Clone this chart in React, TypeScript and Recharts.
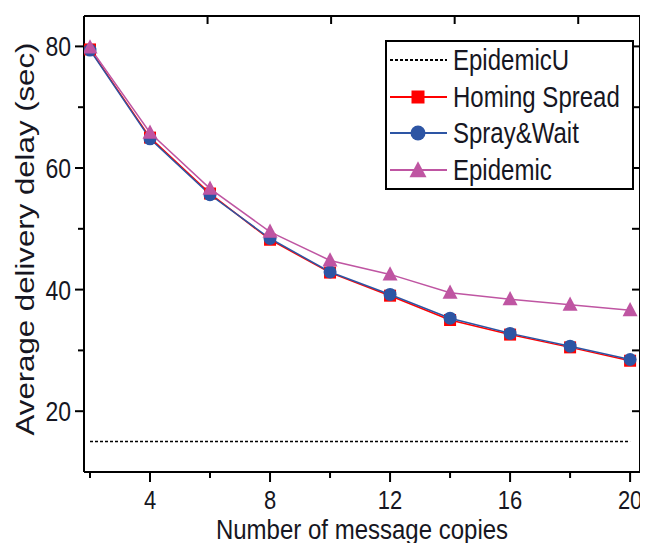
import React from 'react';
import { LineChart, Line, XAxis, YAxis } from 'recharts';

const copies = [2, 4, 6, 8, 10, 12, 14, 16, 18, 20];
const epidemicU = [15, 15, 15, 15, 15, 15, 15, 15, 15, 15];
const homingSpread = [79.5, 65.0, 55.8, 48.2, 42.8, 39.0, 35.0, 32.6, 30.5, 28.3];
const sprayWait = [79.4, 64.8, 55.6, 48.4, 42.9, 39.2, 35.3, 32.8, 30.7, 28.5];
const epidemic = [79.8, 65.8, 56.6, 49.5, 44.8, 42.5, 39.5, 38.4, 37.5, 36.6];

const xTicks = [2, 4, 6, 8, 10, 12, 14, 16, 18, 20];
const xLabelled = [4, 8, 12, 16, 20];
const yTicks = [20, 30, 40, 50, 60, 70, 80];
const yLabelled = [20, 40, 60, 80];

const data = copies.map((c, i) => ({
  copies: c,
  epidemicU: epidemicU[i],
  homing: homingSpread[i],
  spray: sprayWait[i],
  epidemic: epidemic[i],
}));

const RED = '#ff0000';
const BLUE = '#2d55a4';
const PINK = '#bf55a2';
const FONT = '"Liberation Sans", Arial, sans-serif';
const INK = '#161622';

const Square = ({ cx, cy, fill, size = 12 }: any) => (
  <rect x={cx - size / 2} y={cy - size / 2} width={size} height={size} fill={fill} />
);
const Circle = ({ cx, cy, fill, r = 6.5 }: any) => <circle cx={cx} cy={cy} r={r} fill={fill} />;
const Triangle = ({ cx, cy, fill, s = 15 }: any) => (
  <path d={`M${cx},${cy - s * 0.55}L${cx + s / 2},${cy + s * 0.4}L${cx - s / 2},${cy + s * 0.4}Z`} fill={fill} />
);

const BottomTick = ({ x, y, payload }: any) => {
  const major = xLabelled.includes(payload.value);
  return (
    <g>
      <line x1={x} y1={y} x2={x} y2={y + (major ? 10 : 6)} stroke="#000" strokeWidth={2} />
      {major && (
        <text transform={`translate(${x},${y + 37}) scale(1,1.2)`} textAnchor="middle" fontSize={22} fontFamily={FONT} fill={INK}>
          {payload.value}
        </text>
      )}
    </g>
  );
};

const LeftTick = ({ x, y, payload }: any) => {
  const major = yLabelled.includes(payload.value);
  return (
    <g>
      <line x1={x} y1={y} x2={x - (major ? 9 : 6)} y2={y} stroke="#000" strokeWidth={2} />
      {major && (
        <text transform={`translate(${x - 13},${y + 10}) scale(1,1.2)`} textAnchor="end" fontSize={23} fontFamily={FONT} fill={INK}>
          {payload.value}
        </text>
      )}
    </g>
  );
};

const TopTick = ({ x, y }: any) => <line x1={x} y1={y} x2={x} y2={y + 8} stroke="#000" strokeWidth={2} />;
const RightTick = ({ x, y }: any) => <line x1={x} y1={y} x2={x - 8} y2={y} stroke="#000" strokeWidth={2} />;

const legendItems = [
  { name: 'EpidemicU', color: '#000', dash: '3 2', marker: null },
  { name: 'Homing Spread', color: RED, dash: undefined, marker: 'square' },
  { name: 'Spray&Wait', color: BLUE, dash: undefined, marker: 'circle' },
  { name: 'Epidemic', color: PINK, dash: undefined, marker: 'triangle' },
];

function ChartLegend() {
  return (
    <div
      style={{
        position: 'absolute',
        left: 385,
        top: 40,
        width: 249,
        boxSizing: 'border-box',
        border: '2px solid #000',
        background: '#fff',
      }}
    >
      {legendItems.map((it) => (
        <div key={it.name} style={{ display: 'flex', alignItems: 'center', height: 36.5 }}>
          <svg width={62} height={36} style={{ display: 'block' }}>
            <line x1={3} y1={18} x2={60} y2={18} stroke={it.color} strokeWidth={2} strokeDasharray={it.dash} />
            {it.marker === 'square' && <Square cx={31} cy={18} fill={it.color} size={13} />}
            {it.marker === 'circle' && <Circle cx={31} cy={18} fill={it.color} r={7.5} />}
            {it.marker === 'triangle' && <Triangle cx={31} cy={18.5} fill={it.color} s={17} />}
          </svg>
          <span
            style={{
              fontFamily: FONT,
              fontSize: 24,
              color: INK,
              marginLeft: 4,
              display: 'inline-block',
              transform: 'scaleY(1.2)',
              whiteSpace: 'nowrap',
            }}
          >
            {it.name}
          </span>
        </div>
      ))}
    </div>
  );
}

export default function App() {
  return (
    <div style={{ margin: -8, width: 648, height: 551, position: 'relative', background: '#e7e7e7', overflow: 'hidden' }}>
      <div style={{ position: 'absolute', left: 6, top: 5, right: 0, bottom: 0, background: '#fff' }} />
      <div style={{ position: 'absolute', left: 0, top: 0 }}>
        <LineChart width={648} height={551} data={data} margin={{ top: 0, right: 0, bottom: 0, left: 0 }}>
          <XAxis
            xAxisId={0}
            dataKey="copies"
            type="number"
            domain={[1.8, 20.33]}
            allowDataOverflow
            ticks={xTicks}
            height={79}
            tickSize={0}
            tickMargin={0}
            tickLine={false}
            axisLine={{ stroke: '#000', strokeWidth: 2 }}
            tick={<BottomTick />}
          />
          <XAxis
            xAxisId="top"
            orientation="top"
            type="number"
            domain={[1.8, 20.33]}
            allowDataOverflow
            ticks={xTicks}
            height={16}
            tickSize={0}
            tickMargin={0}
            tickLine={false}
            axisLine={{ stroke: '#000', strokeWidth: 2 }}
            tick={<TopTick />}
          />
          <YAxis
            yAxisId={0}
            type="number"
            domain={[10, 85]}
            allowDataOverflow
            ticks={yTicks}
            width={84}
            tickSize={0}
            tickMargin={0}
            tickLine={false}
            axisLine={{ stroke: '#000', strokeWidth: 2 }}
            tick={<LeftTick />}
            label={{
              value: 'Average delivery delay (sec)',
              content: ({ viewBox }: any) => {
                const cy = viewBox.y + viewBox.height / 2 - 5;
                return (
                  <text
                    transform={`translate(34,${cy}) scale(1,1.2) rotate(-90)`}
                    textAnchor="middle"
                    fontSize={26}
                    fontFamily={FONT}
                    fill={INK}
                  >
                    Average delivery delay (sec)
                  </text>
                );
              },
            }}
          />
          <YAxis
            yAxisId="right"
            orientation="right"
            type="number"
            domain={[10, 85]}
            allowDataOverflow
            ticks={yTicks}
            width={8}
            tickSize={0}
            tickMargin={0}
            tickLine={false}
            axisLine={{ stroke: '#000', strokeWidth: 2 }}
            tick={<RightTick />}
          />
          <Line
            dataKey="epidemicU"
            stroke="#000"
            strokeWidth={1.5}
            strokeDasharray="3 2"
            dot={false}
            isAnimationActive={false}
          />
          <Line
            dataKey="homing"
            stroke={RED}
            strokeWidth={1.5}
            dot={(p: any) => <Square key={`h${p.index}`} cx={p.cx} cy={p.cy} fill={RED} />}
            isAnimationActive={false}
          />
          <Line
            dataKey="spray"
            stroke={BLUE}
            strokeWidth={1.5}
            dot={(p: any) => <Circle key={`s${p.index}`} cx={p.cx} cy={p.cy} fill={BLUE} />}
            isAnimationActive={false}
          />
          <Line
            dataKey="epidemic"
            stroke={PINK}
            strokeWidth={1.5}
            dot={(p: any) => <Triangle key={`e${p.index}`} cx={p.cx} cy={p.cy} fill={PINK} />}
            isAnimationActive={false}
          />
        </LineChart>
      </div>
      <div
        style={{
          position: 'absolute',
          left: 84,
          width: 556,
          top: 518,
          height: 24,
          lineHeight: '24px',
          textAlign: 'center',
          fontFamily: FONT,
          fontSize: 24,
          color: INK,
          transform: 'scaleY(1.15)',
        }}
      >
        Number of message copies
      </div>
      <ChartLegend />
    </div>
  );
}
